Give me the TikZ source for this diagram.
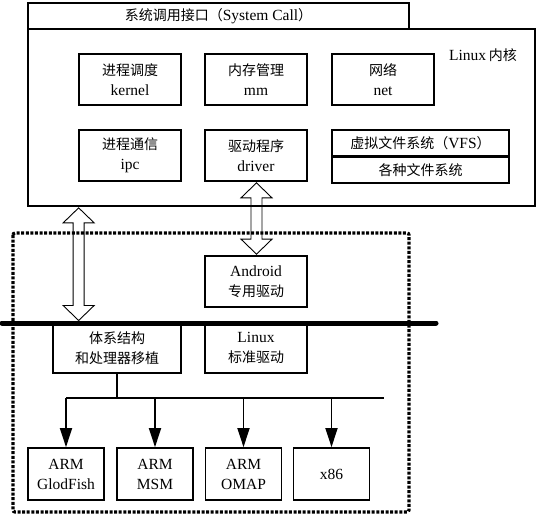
\documentclass[tikz,border=0pt]{standalone}
\usepackage{fontspec}
\setmainfont{Liberation Serif}
\newfontfamily\cjk{Noto Sans CJK SC}
\usetikzlibrary{arrows.meta,calc}
\newcommand\zh[1]{{\cjk\fontsize{14}{20}\selectfont #1}}
\newcommand\dblarrow[2]{%
  \draw[hollowarrow] let \p1=#1, \p2=#2 in
    (\x1,\y1) -- (\x1+15.5pt,\y1-15pt) -- (\x1+5.5pt,\y1-15pt) -- (\x1+5.5pt,\y2+15pt)
    -- (\x1+15.5pt,\y2+15pt) -- (\x1,\y2) -- (\x1-15.5pt,\y2+15pt) -- (\x1-5.5pt,\y2+15pt)
    -- (\x1-5.5pt,\y1-15pt) -- (\x1-15.5pt,\y1-15pt) -- cycle;}
\begin{document}
\begin{tikzpicture}[x=1pt,y=-1pt,
  box/.style={draw, line width=1.7pt, inner sep=0pt, align=center,
    minimum width=102pt, minimum height=51pt,
    font=\fontsize{15.5}{20}\selectfont},
  thinbox/.style={draw, line width=1.5pt, inner sep=0pt, align=center,
    font=\fontsize{15.5}{20}\selectfont},
  hollowarrow/.style={draw, line width=0.9pt, line join=miter},
  treeline/.style={line width=1.8pt},
  treearrow/.style={line width=1.8pt, -{Triangle[width=12pt,length=19pt]}},
  dashbox/.style={line width=3.2pt, dash pattern=on 3pt off 1.6pt, rounded corners=2pt},
  bus/.style={line width=5pt, line cap=round}]
\useasboundingbox (0,0) rectangle (538,515);
% dashed region
\draw[dashbox] (13,233) rectangle (409,512);
% bus line
\coordinate (busL) at (2,323);
\coordinate (busR) at (436,323);
\draw[bus] (busL) -- (busR);
% top boxes
\node[thinbox, minimum width=381pt, minimum height=26pt] (syscall) at (218.5,16)
  {\zh{系统调用接口（}System Call\zh{）}};
\node[thinbox, line width=1.7pt, minimum width=507pt, minimum height=177pt] (kernel) at (281.5,117.5) {};
\node[font=\fontsize{15.5}{20}\selectfont, inner sep=0pt] (klabel) at (483,55) {Linux\,\zh{内核}};
\node[box] (sched) at (130,79.5) {\zh{进程调度}\\kernel};
\node[box] (mm) at (256,79.5) {\zh{内存管理}\\mm};
\node[box] (net) at (383,79.5) {\zh{网络}\\net};
\node[box] (ipc) at (130,155.5) {\zh{进程通信}\\ipc};
\node[box] (driver) at (256,155.5) {\zh{驱动程序}\\driver};
\node[thinbox, line width=1.7pt, minimum width=177pt, minimum height=25.5pt] (vfs) at (420.5,142.75) {\zh{虚拟文件系统（}VFS\zh{）}};
\node[thinbox, line width=1.7pt, minimum width=177pt, minimum height=25.5pt, anchor=north] (fs) at (vfs.south) {\zh{各种文件系统}};
% android layer
\node[box] (android) at (256,281.5) {Android\\\zh{专用驱动}};
\node[box, minimum width=128pt, minimum height=50pt] (arch) at (117,348) {\zh{体系结构}\\\zh{和处理器移植}};
\node[box, minimum height=50pt] (linuxdrv) at (256,348) {Linux\\\zh{标准驱动}};
% bottom boxes
\node[box, minimum width=76pt, minimum height=52pt] (glod) at (66,474) {ARM\\GlodFish};
\node[box, minimum width=76pt, minimum height=52pt] (msm) at (155,474) {ARM\\MSM};
\node[box, minimum width=76pt, minimum height=52pt] (omap) at (243.5,474) {ARM\\OMAP};
\node[box, minimum width=76pt, minimum height=52pt] (x86) at (331.5,474) {x86};
% tree
\coordinate (hl) at (66,398);
\coordinate (hr) at (384,398);
\draw[treeline] (arch.south) -- (arch.south |- hl);
\draw[treeline] (hl) -- (hr);
\draw[treearrow] (glod.north |- hl) -- (glod.north);
\draw[treearrow] (msm.north |- hl) -- (msm.north);
\draw[treearrow] (omap.north |- hl) -- (omap.north);
\draw[treearrow] (x86.north |- hl) -- (x86.north);
% hollow double arrows
\dblarrow{($(ipc.south west |- kernel.south)+(0.5,1)$)}{($(ipc.south west |- busL)+(0.5,-2.5)$)}
\dblarrow{($(driver.south)+(0.5,1)$)}{($(android.north)+(0.5,-1)$)}
\end{tikzpicture}
\end{document}
